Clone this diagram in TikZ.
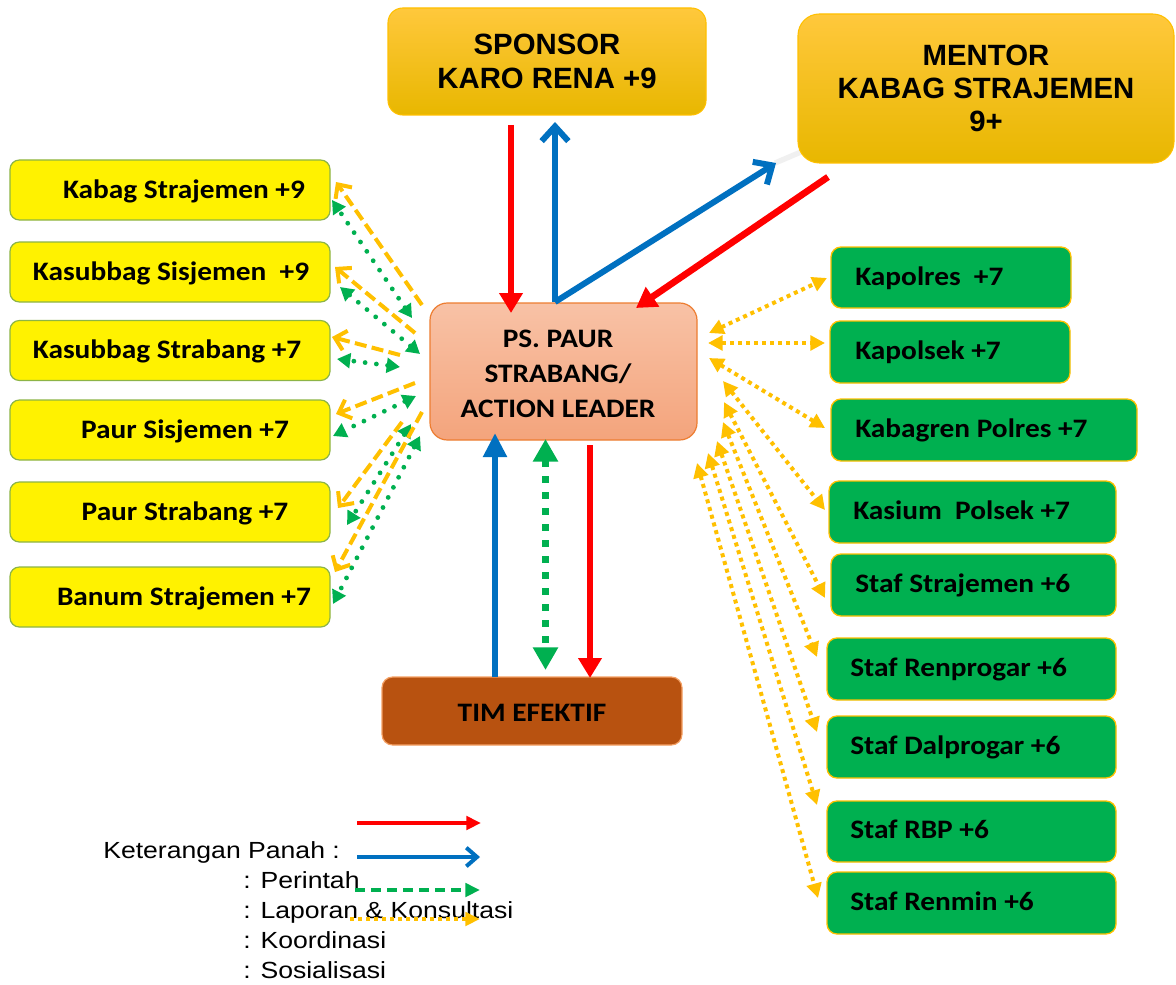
\documentclass[tikz,border=0pt]{standalone}
\usepackage{fontspec}
\setmainfont{Liberation Sans}
\newfontfamily\calfont[FakeStretch=1.1]{Carlito}
\newfontfamily\legfont[FakeStretch=1.14]{Liberation Sans}
\usetikzlibrary{arrows.meta}
\definecolor{cred}{RGB}{255,0,0}
\definecolor{cblue}{RGB}{0,112,192}
\definecolor{cgreen}{RGB}{0,176,80}
\definecolor{cgold}{RGB}{255,192,0}
\definecolor{ylwborder}{RGB}{140,180,70}
\definecolor{topA}{RGB}{255,200,60}
\definecolor{topB}{RGB}{255,192,0}
\definecolor{topC}{RGB}{232,183,0}
\definecolor{salA}{RGB}{248,194,166}
\definecolor{salB}{RGB}{244,164,124}
\definecolor{salBorder}{RGB}{237,125,49}
\definecolor{timA}{RGB}{184,82,16}
\definecolor{timB}{RGB}{230,110,18}
\definecolor{timBorder}{RGB}{244,160,100}
\begin{document}
\begin{tikzpicture}[x=0.75pt,y=-0.75pt,
  lbox/.style={draw=ylwborder, fill=yellow, line width=0.9pt, rounded corners=7pt, minimum width=240pt, minimum height=45pt, inner sep=0pt},
  rbox/.style={draw=cgold, fill=cgreen, line width=1pt, rounded corners=7.5pt, minimum height=46.5pt, inner sep=0pt},
  topbox/.style={draw=topB, line width=0.8pt, top color=topA, middle color=topB, bottom color=topC, inner sep=0pt, align=center, font=\bfseries\fontsize{22}{25}\selectfont},
  btxt/.style={font=\calfont\bfseries\fontsize{20}{23}\selectfont, text height=13.5pt, text depth=4pt, inner sep=0pt},
  ctxt/.style={font=\calfont\bfseries\fontsize{20}{26.25}\selectfont, inner sep=0pt, align=center},
  legtxt/.style={font=\legfont\fontsize{17.5}{22}\selectfont, inner sep=0pt, anchor=base west},
  redA/.style={draw=cred, line width=5pt, -{Triangle[length=15pt,width=17pt]}},
  blueA/.style={draw=cblue, line width=4.5pt, -{Straight Barb[length=11pt,width=20pt]}},
  blueT/.style={draw=cblue, line width=5pt, -{Triangle[length=18pt,width=17pt]}},
  greenDD/.style={draw=cgreen, line width=5.25pt, dash pattern=on 5.25pt off 6.75pt, {Triangle[length=17pt,width=18pt]}-{Triangle[length=17pt,width=18pt]}},
  oda/.style={draw=cgold, line width=3pt, dash pattern=on 9pt off 4pt, -{Straight Barb[length=8pt,width=15pt]}},
  gdo/.style={draw=cgreen, line width=3.6pt, line cap=round, dash pattern=on 0pt off 8.5pt, {Triangle[length=10pt,width=11pt]}-{Triangle[length=10pt,width=11pt]}},
  rdo/.style={draw=cgold, line width=3pt, dash pattern=on 3pt off 3pt, {Triangle[length=11pt,width=11pt]}-{Triangle[length=11pt,width=11pt]}},
  legred/.style={draw=cred, line width=3pt, -{Triangle[length=11pt,width=10pt]}},
  legblue/.style={draw=cblue, line width=3pt, -{Straight Barb[length=8pt,width=14pt]}},
  leggreen/.style={draw=cgreen, line width=3pt, dash pattern=on 7.5pt off 4.5pt, -{Triangle[length=11pt,width=10pt]}},
  leggold/.style={draw=cgold, line width=3pt, dash pattern=on 3pt off 3pt, -{Triangle[length=11pt,width=10pt]}}
]
\fill[white] (0,0) rectangle (1176,984);
\useasboundingbox (0,0) rectangle (1176,984);

% faint shadow line near mentor
\coordinate (sh1) at (775,163);
\coordinate (sh2) at (808,149);
\draw[gray!12, line width=4pt] (sh1) -- (sh2);

% top boxes
\node[topbox, rounded corners=11pt, minimum width=238.5pt, minimum height=80.25pt] (S) at (547,61.5) {SPONSOR\\KARO RENA +9};
\node[topbox, rounded corners=16pt, minimum width=282pt, minimum height=111.75pt] (M) at (986,88.5) {MENTOR\\KABAG STRAJEMEN\\9+};

% center box
\node[draw=salBorder, line width=0.9pt, top color=salA, bottom color=salB, rounded corners=13pt, minimum width=200.25pt, minimum height=102.75pt, inner sep=0pt] (C) at (563.5,371.5) {};
\node[ctxt] (Ct) at (558,374) {PS. PAUR\\STRABANG/\\ACTION LEADER};

% tim efektif
\node[draw=timBorder, line width=0.9pt, top color=timA, middle color=timB, bottom color=timA, rounded corners=8pt, minimum width=225pt, minimum height=51pt, inner sep=0pt] (T) at (532,711) {};
\node[ctxt] (Tt) at (532,713) {TIM EFEKTIF};

% left boxes
\node[lbox] (L1) at (170,190) {};
\node[lbox] (L2) at (170,272) {};
\node[lbox] (L3) at (170,350.5) {};
\node[lbox] (L4) at (170,430) {};
\node[lbox] (L5) at (170,512) {};
\node[lbox] (L6) at (170,597) {};
\node[btxt] (L1t) at (184,192) {Kabag Strajemen +9};
\node[btxt] (L2t) at (171,274) {Kasubbag Sisjemen~ +9};
\node[btxt] (L3t) at (167,352) {Kasubbag Strabang +7};
\node[btxt] (L4t) at (185,432) {Paur Sisjemen +7};
\node[btxt] (L5t) at (185,514) {Paur Strabang +7};
\node[btxt] (L6t) at (184,599) {Banum Strajemen +7};

% right boxes
\node[rbox, minimum width=180pt, minimum height=45.75pt] (R1) at (951,277.5) {};
\node[rbox, minimum width=180pt] (R2) at (950,352) {};
\node[rbox, minimum width=229.5pt] (R3) at (984,430) {};
\node[rbox, minimum width=215.25pt] (R4) at (972.5,512) {};
\node[rbox, minimum width=213.75pt] (R5) at (973.5,585) {};
\node[rbox, minimum width=216.75pt] (R6) at (971.5,669) {};
\node[rbox, minimum width=216.75pt] (R7) at (971.5,747) {};
\node[rbox, minimum width=216.75pt, minimum height=45.75pt] (R8) at (971.5,831.5) {};
\node[rbox, minimum width=216.75pt] (R9) at (971.5,903) {};
\node[btxt, anchor=west] (R1t) at (855,279) {Kapolres~ +7};
\node[btxt, anchor=west] (R2t) at (855,353) {Kapolsek +7};
\node[btxt, anchor=west] (R3t) at (855,431) {Kabagren Polres +7};
\node[btxt, anchor=west] (R4t) at (853,513) {Kasium~ Polsek +7};
\node[btxt, anchor=west] (R5t) at (855,586) {Staf Strajemen +6};
\node[btxt, anchor=west] (R6t) at (850,670) {Staf Renprogar +6};
\node[btxt, anchor=west] (R7t) at (850,748) {Staf Dalprogar +6};
\node[btxt, anchor=west] (R8t) at (850,832) {Staf RBP +6};
\node[btxt, anchor=west] (R9t) at (850,904) {Staf Renmin +6};

% top arrows
\coordinate (sr1) at (511,125); \coordinate (sr2) at (511,313);
\draw[redA] (sr1) -- (sr2);
\coordinate (sb1) at (555,302); \coordinate (sb2) at (555,122);
\draw[blueA] (sb1) -- (sb2);
\coordinate (mb1) at (555,302); \coordinate (mb2) at (776,163);
\draw[blueA] (mb1) -- (mb2);
\coordinate (mr1) at (828,177); \coordinate (mr2) at (636,308);
\draw[redA] (mr1) -- (mr2);

% bottom arrows
\coordinate (tb1) at (495,677); \coordinate (tb2) at (495,433);
\draw[blueT] (tb1) -- (tb2);
\coordinate (tg1) at (545.5,439); \coordinate (tg2) at (545.5,670);
\draw[greenDD] (tg1) -- (tg2);
\coordinate (tr1) at (590,445); \coordinate (tr2) at (590,678);
\draw[redA] (tr1) -- (tr2);

% left arrows
\foreach \i/\ax/\ay/\bx/\by/\cx/\cy/\dx/\dy in {
  1/422/305/336/182/412/318/332/200,
  2/415/333/335/267/420/354/340/287,
  3/400/355/332/337/400/367/337/359,
  4/415/383/336/414/416/396/333/436,
  5/402/422/338/508/411/424/347/525,
  6/422/412/335/572/420/436/333/604}{
  \coordinate (lo\i a) at (\ax,\ay); \coordinate (lo\i b) at (\bx,\by);
  \coordinate (lg\i a) at (\cx,\cy); \coordinate (lg\i b) at (\dx,\dy);
  \draw[oda] (lo\i a) -- (lo\i b);
  \draw[gdo] (lg\i a) -- (lg\i b);
}

% right arrows
\foreach \i/\ax/\ay/\bx/\by in {
  1/709/333/827/278,
  2/708/343/825/343,
  3/709/358/825/428,
  4/723/381/825/510,
  5/724/402/825/598,
  6/723/422/817/657,
  7/717/441/817/732,
  8/708/453/817/805,
  9/697/463/818/898}{
  \coordinate (ro\i a) at (\ax,\ay); \coordinate (ro\i b) at (\bx,\by);
  \draw[rdo] (ro\i a) -- (ro\i b);
}

% legend
\node[legtxt] (K0) at (103,858) {Keterangan Panah :};
\node[legtxt] (K1) at (243,888) {: Perintah};
\node[legtxt] (K2) at (243,918) {: Laporan \& Konsultasi};
\node[legtxt] (K3) at (243,948) {: Koordinasi};
\node[legtxt] (K4) at (243,978) {: Sosialisasi};
\coordinate (g1a) at (357,823); \coordinate (g1b) at (481,823);
\draw[legred] (g1a) -- (g1b);
\coordinate (g2a) at (357,857); \coordinate (g2b) at (480,857);
\draw[legblue] (g2a) -- (g2b);
\coordinate (g3a) at (355,890); \coordinate (g3b) at (480,890);
\draw[leggreen] (g3a) -- (g3b);
\coordinate (g4a) at (350,919); \coordinate (g4b) at (480,919);
\draw[leggold] (g4a) -- (g4b);
\end{tikzpicture}
\end{document}
